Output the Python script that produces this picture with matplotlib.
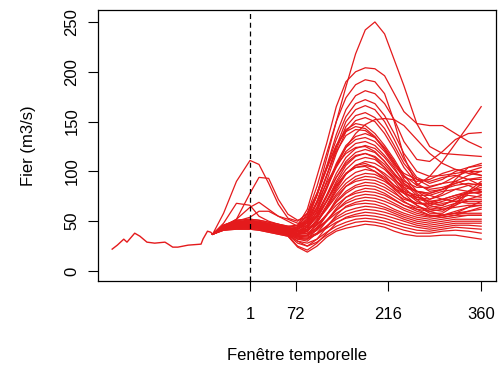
import matplotlib
matplotlib.use("Agg")
import matplotlib.pyplot as plt

plt.rcParams['font.family'] = ['Liberation Sans', 'DejaVu Sans']

# observed discharge before the forecast window
hist_x = [-213, -205, -195, -190, -178, -170, -159, -147, -131, -126, -119, -111, -95, -75, -72, -65, -60, -57]
hist_y = [22, 26, 32, 29, 38, 35, 29, 28, 29, 27, 24, 24, 26, 27, 32, 40, 39, 37]

knots = [-57, -40, -20, 1, 15, 30, 45, 60, 75, 90, 105, 120, 135, 150, 165, 180,
         195, 210, 225, 240, 260, 280, 300, 320, 340, 360]

# ensemble members (m3/s) at the knots above
members = [
    [37, 42, 46, 48, 47, 46, 44, 42, 44, 52, 76, 113, 150, 185, 218, 242, 250, 238, 212, 186, 148, 125, 118, 117, 116, 115],
    [37, 45, 49, 50, 49, 47, 45, 44, 46, 62, 95, 128, 165, 190, 200, 204, 203, 196, 178, 160, 148, 146, 146, 138, 130, 124],
    [37, 44, 47, 48, 47, 45, 43, 41, 44, 58, 85, 118, 150, 174, 187, 192, 190, 178, 150, 115, 86, 95, 110, 128, 146, 165],
    [37, 43, 45, 46, 45, 43, 41, 40, 42, 52, 76, 105, 137, 162, 176, 181, 178, 168, 152, 130, 112, 110, 120, 132, 138, 139],
    [37, 46, 51, 52, 51, 49, 47, 45, 46, 56, 78, 104, 132, 155, 168, 172, 168, 156, 138, 118, 100, 95, 96, 98, 100, 100],
    [37, 45, 49, 50, 49, 47, 45, 43, 42, 48, 68, 95, 125, 150, 162, 166, 162, 150, 132, 112, 94, 88, 92, 100, 104, 106],
    [37, 44, 48, 49, 48, 46, 44, 42, 42, 50, 70, 96, 122, 145, 156, 159, 154, 143, 126, 108, 92, 85, 88, 95, 100, 104],
    [37, 43, 46, 47, 46, 44, 42, 40, 40, 46, 64, 90, 118, 140, 151, 154, 150, 138, 122, 104, 88, 80, 82, 90, 96, 100],
    [37, 45, 48, 49, 48, 46, 44, 42, 42, 48, 62, 84, 106, 124, 138, 147, 152, 153, 152, 146, 132, 118, 108, 102, 98, 96],
    [37, 58, 90, 111, 107, 88, 67, 53, 50, 58, 78, 104, 126, 140, 145, 143, 135, 122, 108, 96, 86, 82, 84, 88, 92, 94],
    [37, 44, 52, 78, 94, 93, 72, 57, 51, 54, 68, 88, 106, 118, 124, 125, 120, 110, 98, 88, 80, 78, 82, 88, 92, 92],
    [37, 48, 68, 66, 55, 50, 47, 44, 40, 40, 50, 66, 84, 98, 106, 108, 104, 96, 86, 78, 72, 70, 72, 76, 80, 82],
    [37, 45, 52, 64, 69, 62, 55, 52, 48, 48, 58, 76, 94, 108, 116, 118, 114, 104, 92, 82, 74, 72, 76, 82, 86, 88],
    [37, 44, 50, 54, 60, 60, 55, 50, 45, 45, 54, 70, 86, 98, 104, 105, 100, 92, 82, 74, 68, 66, 70, 74, 78, 80],
    [37, 46, 50, 51, 50, 48, 46, 44, 44, 54, 76, 102, 126, 142, 148, 146, 138, 126, 112, 96, 80, 72, 78, 92, 104, 108],
    [37, 44, 48, 49, 48, 46, 44, 42, 42, 50, 70, 96, 120, 136, 142, 141, 134, 122, 108, 98, 92, 90, 94, 96, 92, 86],
    [37, 45, 49, 50, 49, 47, 45, 43, 40, 44, 60, 84, 108, 126, 135, 138, 134, 124, 110, 92, 78, 68, 66, 72, 80, 84],
    [37, 43, 46, 47, 46, 44, 42, 40, 38, 44, 60, 82, 106, 124, 132, 134, 130, 120, 106, 94, 90, 92, 98, 102, 100, 96],
    [37, 46, 51, 52, 51, 49, 47, 45, 44, 50, 64, 84, 104, 120, 128, 130, 126, 116, 104, 88, 76, 66, 62, 66, 72, 76],
    [37, 44, 47, 48, 47, 45, 43, 41, 38, 42, 56, 76, 98, 114, 123, 126, 123, 114, 102, 90, 84, 84, 88, 90, 86, 80],
    [37, 45, 48, 49, 48, 46, 44, 42, 40, 44, 56, 74, 94, 110, 119, 122, 119, 110, 98, 84, 72, 62, 60, 68, 80, 90],
    [37, 43, 45, 46, 45, 43, 41, 39, 36, 40, 52, 70, 90, 106, 115, 118, 115, 107, 96, 86, 80, 78, 82, 86, 88, 86],
    [37, 44, 48, 49, 48, 46, 44, 42, 40, 44, 54, 70, 88, 102, 111, 114, 112, 104, 94, 80, 70, 64, 66, 72, 76, 74],
    [37, 42, 44, 45, 44, 42, 40, 38, 34, 36, 48, 64, 82, 97, 106, 110, 108, 102, 92, 84, 80, 76, 72, 70, 68, 68],
    [37, 45, 49, 50, 49, 47, 45, 43, 42, 46, 56, 70, 86, 98, 104, 106, 104, 98, 90, 78, 66, 58, 58, 66, 78, 87],
    [37, 43, 46, 47, 46, 44, 42, 40, 37, 40, 50, 64, 80, 92, 99, 102, 100, 94, 86, 80, 76, 76, 80, 82, 80, 77],
    [37, 44, 47, 48, 47, 45, 43, 41, 38, 40, 50, 63, 77, 88, 95, 98, 97, 92, 84, 74, 66, 60, 56, 58, 64, 70],
    [37, 42, 44, 44, 43, 41, 39, 37, 32, 32, 42, 56, 72, 85, 92, 95, 94, 90, 83, 78, 74, 70, 68, 70, 72, 72],
    [37, 45, 48, 49, 48, 46, 44, 42, 40, 42, 50, 62, 75, 85, 90, 92, 91, 87, 80, 70, 62, 56, 54, 56, 60, 64],
    [37, 43, 46, 47, 46, 44, 42, 40, 36, 36, 44, 56, 70, 80, 86, 89, 88, 84, 78, 72, 68, 68, 72, 76, 78, 79],
    [37, 44, 46, 47, 46, 44, 42, 40, 37, 38, 46, 57, 69, 78, 84, 86, 85, 81, 75, 69, 64, 62, 64, 68, 70, 70],
    [37, 42, 44, 45, 44, 42, 40, 38, 32, 30, 38, 50, 63, 74, 80, 83, 82, 78, 72, 66, 60, 56, 56, 60, 64, 66],
    [37, 45, 48, 49, 48, 46, 44, 42, 40, 41, 47, 56, 66, 74, 78, 80, 79, 76, 71, 66, 62, 60, 62, 64, 66, 66],
    [37, 43, 45, 46, 45, 43, 41, 39, 35, 35, 41, 50, 61, 70, 75, 77, 76, 73, 68, 63, 58, 55, 56, 58, 60, 62],
    [37, 44, 46, 46, 45, 43, 41, 39, 36, 36, 42, 51, 61, 68, 72, 74, 73, 70, 66, 61, 56, 54, 56, 58, 58, 58],
    [37, 42, 43, 43, 42, 40, 38, 36, 28, 25, 32, 44, 56, 65, 69, 71, 70, 67, 62, 58, 54, 52, 54, 56, 56, 56],
    [37, 44, 47, 48, 47, 45, 43, 41, 38, 38, 43, 50, 58, 64, 67, 68, 67, 64, 60, 56, 52, 50, 52, 54, 56, 56],
    [37, 42, 44, 44, 43, 41, 39, 37, 33, 32, 37, 45, 54, 60, 63, 65, 64, 62, 58, 54, 50, 48, 50, 52, 52, 52],
    [37, 43, 45, 46, 45, 43, 41, 39, 35, 34, 38, 45, 52, 57, 60, 62, 61, 59, 56, 52, 48, 46, 48, 50, 50, 50],
    [37, 41, 42, 42, 41, 39, 37, 35, 25, 21, 28, 38, 48, 54, 57, 59, 58, 56, 53, 50, 46, 44, 46, 48, 48, 48],
    [37, 42, 44, 45, 44, 42, 40, 38, 34, 33, 37, 43, 49, 53, 55, 56, 55, 53, 50, 47, 44, 42, 44, 46, 46, 45],
    [37, 41, 43, 43, 42, 40, 38, 36, 30, 28, 32, 39, 45, 49, 52, 53, 52, 50, 47, 44, 41, 40, 42, 44, 43, 42],
    [37, 42, 43, 44, 43, 41, 39, 37, 30, 25, 29, 36, 42, 46, 49, 50, 49, 47, 44, 41, 38, 38, 40, 41, 40, 38],
    [37, 41, 42, 42, 41, 39, 37, 35, 24, 19, 25, 34, 40, 43, 45, 47, 46, 44, 40, 37, 35, 35, 36, 36, 34, 32],
]

x_ticks = [1, 72, 216, 360]
y_ticks = [0, 50, 100, 150, 200, 250]

red = '#E41A1C'

fig = plt.figure(figsize=(5.0, 3.67), dpi=100)
ax = fig.add_axes([0.196, 0.2343, 0.796, 0.7385])

for m in members:
    ax.plot(knots, m, color=red, lw=0.9)
ax.plot(hist_x, hist_y, color=red, lw=1.0)

ax.axvline(1, color='black', lw=0.9, ls=(0, (4, 3)))

ax.set_xlim(-235, 383)
ax.set_ylim(-10, 262)
ax.set_xticks(x_ticks)
ax.set_yticks(y_ticks)
ax.set_yticklabels([str(v) for v in y_ticks], rotation=90, va='center')
ax.tick_params(direction='out', length=7.5, width=0.8, labelsize=12)
ax.tick_params(axis='x', pad=11)
ax.tick_params(axis='y', pad=6)
for s in ax.spines.values():
    s.set_linewidth(0.9)

ax.set_xlabel('Fenêtre temporelle', fontsize=12, labelpad=19)
ax.set_ylabel('Fier (m3/s)', fontsize=12, labelpad=20)

fig.savefig('out.png', dpi=100)
